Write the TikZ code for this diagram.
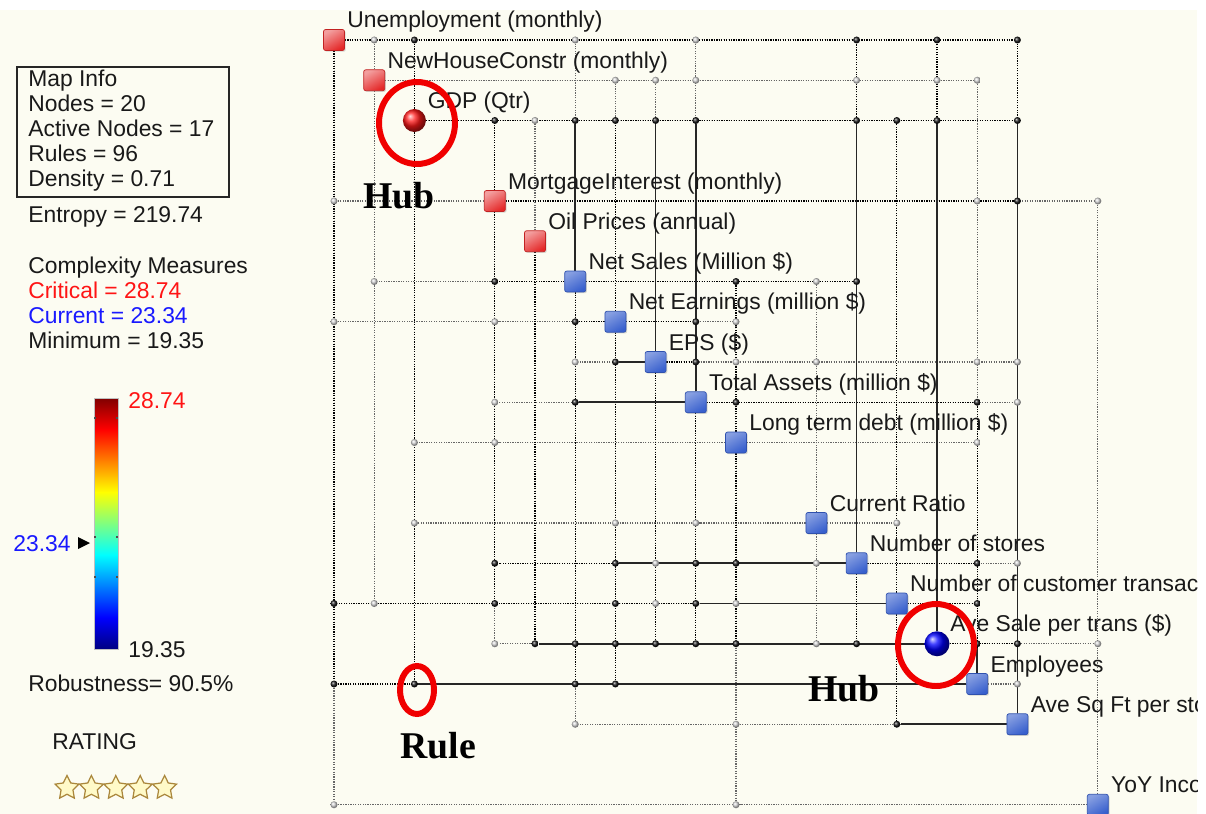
\documentclass[tikz,border=0pt]{standalone}
\usepackage{fontspec}
\setmainfont{Liberation Sans}
\newfontfamily\hubfont{Liberation Serif}
\usetikzlibrary{shapes.geometric,shadows}
\definecolor{panel}{RGB}{252,252,242}
\definecolor{hubred}{RGB}{240,0,0}
\definecolor{critred}{RGB}{255,20,20}
\definecolor{curblue}{RGB}{25,25,255}
\definecolor{sqred}{RGB}{228,40,40}
\definecolor{sqblue}{RGB}{55,95,205}
\definecolor{jetlo}{RGB}{0,0,130}
\definecolor{jethi}{RGB}{128,0,0}
\definecolor{starfill}{RGB}{255,250,200}
\definecolor{starline}{RGB}{170,135,60}
\pgfdeclarelayer{back}
\pgfsetlayers{back,main}
\pgfdeclareverticalshading{jet}{100bp}{color(0bp)=(jetlo); color(25bp)=(jetlo); color(31.25bp)=(blue); color(43.75bp)=(cyan); color(56.25bp)=(yellow); color(68.75bp)=(red); color(75bp)=(jethi); color(100bp)=(jethi)}
% row/column/dot colour of every rule
\newcommand\maprules{0/1/g,0/2/b,0/6/g,0/9/g,0/13/b,0/15/b,0/17/b,
1/7/g,1/8/g,1/9/g,1/13/g,1/15/g,1/16/g,
2/4/b,2/5/g,2/6/b,2/7/b,2/8/b,2/9/b,2/13/b,2/14/b,2/15/b,2/17/b,
4/0/g,4/16/g,4/17/b,4/19/g,
6/1/g,6/4/b,6/10/b,6/12/g,6/13/b,
7/0/g,7/4/g,7/6/b,7/9/b,7/10/g,
8/6/g,8/7/b,8/9/b,8/10/g,8/12/g,8/16/g,8/17/g,
9/4/g,9/6/b,9/10/b,9/16/b,9/17/g,
10/2/g,10/4/g,10/16/g,
12/2/g,12/7/g,12/9/g,12/14/g,
13/4/b,13/7/b,13/8/g,13/9/b,13/10/b,13/12/g,13/16/b,13/17/g,
14/0/b,14/1/g,14/4/b,14/7/b,14/8/g,14/9/b,14/10/g,14/16/b,
15/4/g,15/5/b,15/6/b,15/7/b,15/8/b,15/9/b,15/10/b,15/12/g,15/13/b,15/16/b,15/17/b,15/19/g,
16/0/b,16/2/b,16/6/b,16/7/b,16/17/g,
17/6/g,17/10/g,17/14/b,
19/0/g,19/10/g}
\begin{document}
\begin{tikzpicture}[x=0.02cm,y=-0.02cm,font=\fontsize{13}{15}\selectfont,
  rsq/.style={rectangle,rounded corners=1.2pt,minimum size=0.42cm,inner sep=0,draw=sqred!85!black,top color=sqred!45!white,bottom color=sqred,shading angle=30,drop shadow={opacity=0.3,shadow xshift=0.7pt,shadow yshift=-0.7pt}},
  bsq/.style={rsq,draw=sqblue!85!black,top color=sqblue!60!white,bottom color=sqblue,shading angle=30},
  rhub/.style={circle,minimum size=0.46cm,inner sep=0,ball color=red!90},
  bhub/.style={circle,minimum size=0.5cm,inner sep=0,ball color=blue},
  b dot/.style={circle,minimum size=0.14cm,inner sep=0,ball color=black!90},
  g dot/.style={circle,minimum size=0.14cm,inner sep=0,ball color=black!15},
  g leg/.style={line width=0.75pt,black!60,dash pattern=on 0.7pt off 0.7pt},
  b leg/.style={g leg,black},
  s leg/.style={line width=0.95pt,black!85},
  lbl/.style={anchor=base west,inner sep=0,text=black!90},
  ring/.style={draw=hubred,line width=3.4pt},
  hubtxt/.style={anchor=base west,inner sep=0,font=\hubfont\bfseries\fontsize{21.5}{24}\selectfont},
  star5/.style={star,star points=5,star point ratio=2.0,minimum size=0.5cm,inner sep=0,fill=starfill,draw=starline,line width=0.7pt}]
\useasboundingbox (0,0) rectangle (1206,814);
\begin{pgfonlayer}{back}
\fill[white] (0,0) rectangle (1206,814);
\fill[panel] (0,10) rectangle (1197,814);
\end{pgfonlayer}

% left panel
\draw[line width=1.1pt,black!85] (17,67) rectangle (229,197);
\node[lbl] (mapinfo) at (28,87) {Map Info};
\node[lbl] (nnodes) at (28,112) {Nodes = 20};
\node[lbl] (nactive) at (28,137) {Active Nodes = 17};
\node[lbl] (nrules) at (28,162) {Rules = 96};
\node[lbl] (ndens) at (28,187) {Density = 0.71};
\node[lbl] (entropy) at (28,222) {Entropy = 219.74};
\node[lbl] (cmhead) at (28,273) {Complexity Measures};
\node[lbl,text=critred] (crit) at (28,298) {Critical = 28.74};
\node[lbl,text=curblue] (curr) at (28,323) {Current = 23.34};
\node[lbl] (mini) at (28,348) {Minimum = 19.35};
\shade[shading=jet] (94,398) rectangle (118,649);
\draw[black!25,line width=0.4pt] (94,398) rectangle (118,649);
\foreach \t in {418,537,577}
  \draw[black!70,line width=0.8pt] (94,\t) -- (96,\t) (116,\t) -- (118,\t);
\node[lbl,text=critred] (barhi) at (128,408) {28.74};
\node[lbl] (barlo) at (128,657) {19.35};
\node[lbl,text=curblue] (barcur) at (13,551) {23.34};
\fill (78,537) -- (90,543) -- (78,549) -- cycle;
\node[lbl] (robust) at (28,691) {Robustness= 90.5\%};
\node[lbl] (rating) at (52,749) {RATING};
\foreach \k in {0,...,4}
  \node[star5] (s\k) at ({67+24.4*\k},788) {};

% the map
\foreach \i in {0,...,19}
  \coordinate (p\i) at ({334+40.2*\i},{40+40.25*\i});
\foreach \i/\s in {0/rsq,1/rsq,2/rhub,4/rsq,5/rsq,6/bsq,7/bsq,8/bsq,9/bsq,10/bsq,12/bsq,13/bsq,14/bsq,15/bhub,16/bsq,17/bsq,19/bsq}
  \node[\s] (n\i) at (p\i) {};
\foreach \r/\c/\k in \maprules
  \node[\k\space dot] (d\r-\c) at (p\c |- p\r) {};
\begin{pgfonlayer}{back}
\foreach \r/\c/\k in \maprules
  \draw[g leg] (n\r) -- (d\r-\c) (n\c) -- (d\r-\c);
\foreach \r/\c/\k in \maprules {
  \if\k b\draw[b leg] (n\r) -- (d\r-\c) (n\c) -- (d\r-\c);\fi
}
\foreach \a/\b in {6/2-6,8/2-8,9/2-9,13/2-13,15/2-15,17/2-17,16/15-16,8/8-7,9/9-6,13/13-7,14/14-9,15/15-5,16/16-2,17/17-14}
  \draw[s leg] (n\a) -- (d\b);
\end{pgfonlayer}

\begin{scope}
\clip (0,0) rectangle (1197,814);
\foreach \i/\t in {0/Unemployment (monthly),1/NewHouseConstr (monthly),2/GDP (Qtr),4/MortgageInterest (monthly),5/Oil Prices (annual),6/Net Sales (Million \$),7/Net Earnings (million \$),8/EPS (\$),9/Total Assets (million \$),10/Long term debt (million \$),12/Current Ratio,13/Number of stores,14/Number of customer transac,15/Ave Sale per trans (\$),16/Employees,17/Ave Sq Ft per sto,19/YoY Inco}
  \node[lbl] (t\i) at ([xshift=0.26cm,yshift=0.24cm]p\i) {\t};
\end{scope}

% notes
\draw[ring] (417,123) ellipse [x radius=38, y radius=41];
\draw[ring] (936,645) ellipse [x radius=38, y radius=41];
\draw[ring] (417,690) ellipse [x radius=17, y radius=24];
\node[hubtxt] (hub1) at (363,209) {Hub};
\node[hubtxt] (hub2) at (808,701) {Hub};
\node[hubtxt] (rule) at (400,758) {Rule};
\end{tikzpicture}
\end{document}
